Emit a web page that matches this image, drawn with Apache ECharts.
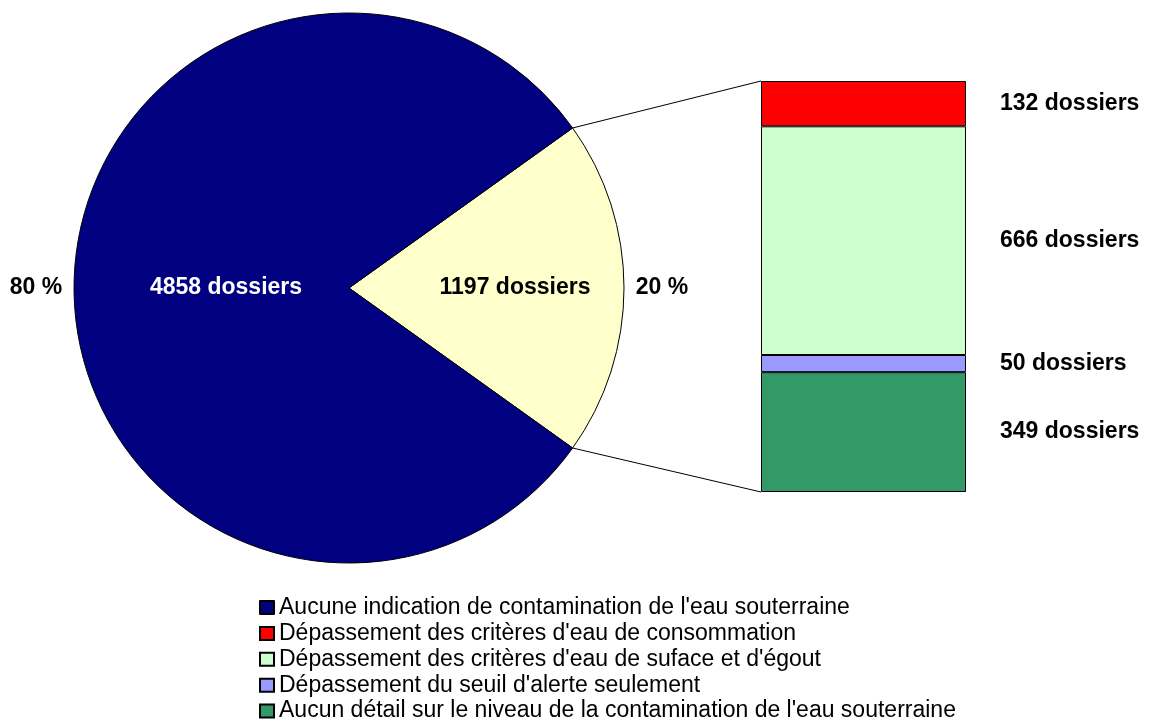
<!DOCTYPE html>
<html>
<head>
<meta charset="utf-8">
<script src="https://cdn.jsdelivr.net/npm/echarts@6/dist/echarts.min.js"></script>
<style>
  html, body { margin: 0; padding: 0; background: #fff; }
  #chart { width: 1150px; height: 726px; }
</style>
</head>
<body>
<div id="chart"></div>
<script>
// pie: dossiers without / with contamination indication
const pieNames = ['Contamination', "Aucune indication de contamination de l'eau souterraine"];
const pieValues = [1197, 4858];
const pieColors = ['#FFFFCC', '#000080'];

// breakdown of the 1197 dossiers, bottom to top of the stacked bar
const barNames = [
    "Aucun détail sur le niveau de la contamination de l'eau souterraine",
    "Dépassement du seuil d'alerte seulement",
    "Dépassement des critères d'eau de suface et d'égout",
    "Dépassement des critères d'eau de consommation"
];
const barValues = [349, 50, 666, 132];
const barColors = ['#339966', '#9999FF', '#CCFFCC', '#FF0000'];

const legendOrder = [
    "Aucune indication de contamination de l'eau souterraine",
    "Dépassement des critères d'eau de consommation",
    "Dépassement des critères d'eau de suface et d'égout",
    "Dépassement du seuil d'alerte seulement",
    "Aucun détail sur le niveau de la contamination de l'eau souterraine"
];

const FONT = "'Liberation Sans', Arial, Helvetica, sans-serif";
const CX = 349, CY = 288, R = 275;

const pieTotal = pieValues.reduce((a, b) => a + b, 0);
const barTotal = barValues.reduce((a, b) => a + b, 0);
const halfAngle = 360 * pieValues[0] / pieTotal / 2;

let option = {
    animation: false,
    textStyle: { fontFamily: FONT },
    legend: {
        data: legendOrder,
        orient: 'vertical',
        left: 259,
        top: 596,
        padding: 0,
        itemWidth: 14,
        itemHeight: 13,
        itemGap: 2.9,
        icon: 'rect',
        selectedMode: false,
        textStyle: { fontFamily: FONT, fontSize: 23, color: '#000' }
    },
    grid: { left: 761, top: 81, width: 205, height: 411 },
    xAxis: { type: 'category', data: ['1197'], show: false },
    yAxis: { type: 'value', min: 0, max: barTotal, show: false },
    series: []
};

option.series.push({
    type: 'pie',
    center: [CX, CY],
    radius: R,
    startAngle: halfAngle,
    clockwise: true,
    silent: true,
    itemStyle: { borderColor: '#000', borderWidth: 1 },
    label: {
        position: 'inside',
        formatter: '{c} dossiers',
        fontFamily: FONT,
        fontSize: 23,
        fontWeight: 'bold'
    },
    labelLayout: function (p) {
        return { x: p.dataIndex === 0 ? CX + 166 : CX - 123 };
    },
    data: pieValues.map((v, i) => ({
        name: pieNames[i],
        value: v,
        itemStyle: { color: pieColors[i] },
        label: { color: i === 0 ? '#000' : '#fff' }
    }))
});

// ring outside the pie only to carry the percentage labels
option.series.push({
    type: 'pie',
    center: [CX, CY],
    radius: [R, R + 70],
    startAngle: halfAngle,
    clockwise: true,
    silent: true,
    percentPrecision: 0,
    itemStyle: { color: 'rgba(0,0,0,0)', borderWidth: 0 },
    label: {
        position: 'inside',
        formatter: '{d} %',
        fontFamily: FONT,
        fontSize: 23,
        fontWeight: 'bold',
        color: '#000'
    },
    data: pieValues.map((v, i) => ({ name: 'part ' + pieNames[i], value: v }))
});

for (let i = 0; i < barValues.length; i++) {
    option.series.push({
        name: barNames[i],
        type: 'bar',
        stack: 'total',
        barWidth: '100%',
        silent: true,
        itemStyle: { color: barColors[i], borderColor: '#000', borderWidth: 1 },
        label: {
            show: true,
            position: 'right',
            distance: 34,
            formatter: '{c} dossiers',
            fontFamily: FONT,
            fontSize: 23,
            fontWeight: 'bold',
            color: '#000'
        },
        data: [barValues[i]]
    });
}

let myChart = echarts.init(document.getElementById('chart'));
myChart.setOption(option);

// connector lines from the yellow slice edges to the bar's corners
const rad = halfAngle * Math.PI / 180;
const topPt = myChart.convertToPixel({ gridIndex: 0 }, [0, barTotal]);
const botPt = myChart.convertToPixel({ gridIndex: 0 }, [0, 0]);
const barLeft = option.grid.left;
myChart.setOption({
    graphic: [
        { type: 'line', silent: true,
          shape: { x1: CX + R * Math.cos(rad), y1: CY - R * Math.sin(rad), x2: barLeft, y2: topPt[1] },
          style: { stroke: '#000', lineWidth: 1 } },
        { type: 'line', silent: true,
          shape: { x1: CX + R * Math.cos(rad), y1: CY + R * Math.sin(rad), x2: barLeft, y2: botPt[1] },
          style: { stroke: '#000', lineWidth: 1 } }
    ]
});
</script>
</body>
</html>
